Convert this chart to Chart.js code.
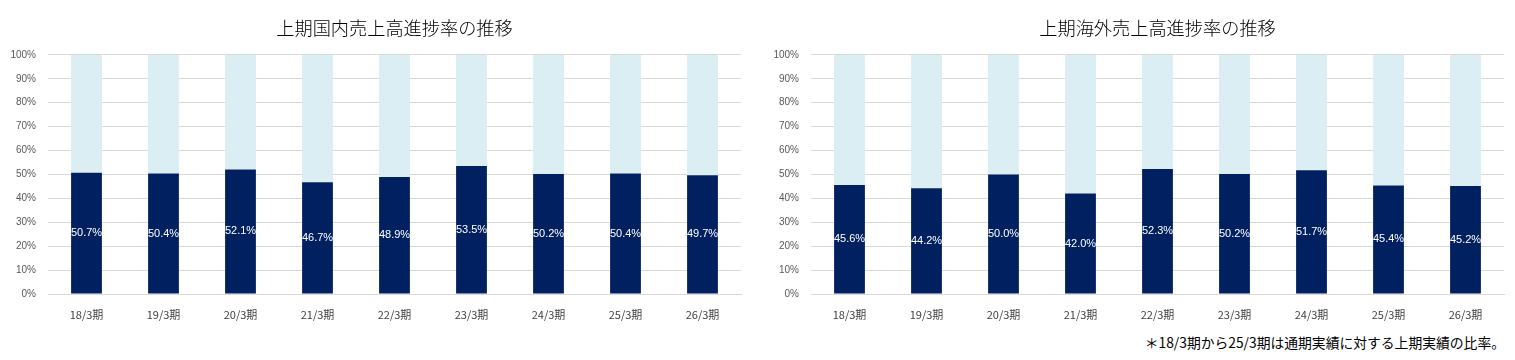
<!DOCTYPE html>
<html><head><meta charset="utf-8">
<script src="https://cdn.jsdelivr.net/npm/chart.js@4/dist/chart.umd.min.js"></script>
<style>
html,body{margin:0;padding:0;background:#fff;width:1515px;height:360px;overflow:hidden;}
.c{position:absolute;top:0;height:325px;}
#note{position:absolute;right:10px;top:333px;font-family:"Noto Sans CJK JP";font-size:13.8px;line-height:18px;color:#000;white-space:nowrap;}
</style></head><body>
<div class="c" style="left:0;width:757px"><canvas id="c1"></canvas></div>
<div class="c" style="left:757px;width:758px"><canvas id="c2"></canvas></div>
<div id="note">＊18/3期から25/3期は通期実績に対する上期実績の比率。</div>
<script>
const categories = ['18/3期','19/3期','20/3期','21/3期','22/3期','23/3期','24/3期','25/3期','26/3期'];
const domesticFirstHalf = [50.7, 50.4, 52.1, 46.7, 48.9, 53.5, 50.2, 50.4, 49.7];
const overseasFirstHalf = [45.6, 44.2, 50.0, 42.0, 52.3, 50.2, 51.7, 45.4, 45.2];
const yTicks = [0,10,20,30,40,50,60,70,80,90,100];
const titles = ['上期国内売上高進捗率の推移','上期海外売上高進捗率の推移'];

const labelPlugin = {
  id:'centerLabels',
  afterDatasetsDraw(chart){
    const ctx = chart.ctx;
    const meta = chart.getDatasetMeta(0);
    const ds = chart.data.datasets[0];
    ctx.save();
    ctx.fillStyle = '#ffffff';
    ctx.font = '11px "Liberation Sans"';
    ctx.textAlign = 'center';
    ctx.textBaseline = 'middle';
    meta.data.forEach((bar,i)=>{
      const y = (bar.y + bar.base)/2;
      ctx.fillText(ds.data[i].toFixed(1)+'%', bar.x, y);
    });
    ctx.restore();
  }
};

function makeChart(id, values, title, leftW, rightPad){
  const rest = values.map(v => +(100 - v).toFixed(1));
  return new Chart(document.getElementById(id), {
    type:'bar',
    data:{labels:categories, datasets:[
      {data:values, backgroundColor:'#002060', barPercentage:0.4, categoryPercentage:1.0},
      {data:rest, backgroundColor:'#DAEEF3', barPercentage:0.4, categoryPercentage:1.0}
    ]},
    options:{
      responsive:true, maintainAspectRatio:false, animation:false,
      layout:{padding:{left:0,right:rightPad,top:0,bottom:0}},
      plugins:{
        legend:{display:false}, tooltip:{enabled:false},
        title:{display:true, text:title, fullSize:false, color:'#000000',
          font:{family:'"Noto Sans CJK JP"', size:18.2, weight:'300', lineHeight:1.2},
          padding:{top:17,bottom:16}}
      },
      scales:{
        x:{stacked:true,
          grid:{display:false},
          border:{display:true,color:'#D9D9D9',width:1},
          ticks:{color:'#404040',font:{family:'"Noto Sans CJK JP"',size:11},padding:6,maxRotation:0},
          afterFit(s){s.height=31;}
        },
        y:{stacked:true,min:0,max:100,
          afterBuildTicks(s){s.ticks = yTicks.map(v=>({value:v}));},
          grid:{color:'#D9D9D9',drawTicks:false,lineWidth:1},
          border:{display:false},
          ticks:{color:'#595959',font:{family:'"Liberation Sans"',size:10},padding:12,
            callback:v=>v+'%'},
          afterFit(s){s.width=leftW;}
        }
      }
    },
    plugins:[labelPlugin]
  });
}
makeChart('c1', domesticFirstHalf, titles[0], 48, 16);
makeChart('c2', overseasFirstHalf, titles[1], 54, 11);
</script>
</body></html>
